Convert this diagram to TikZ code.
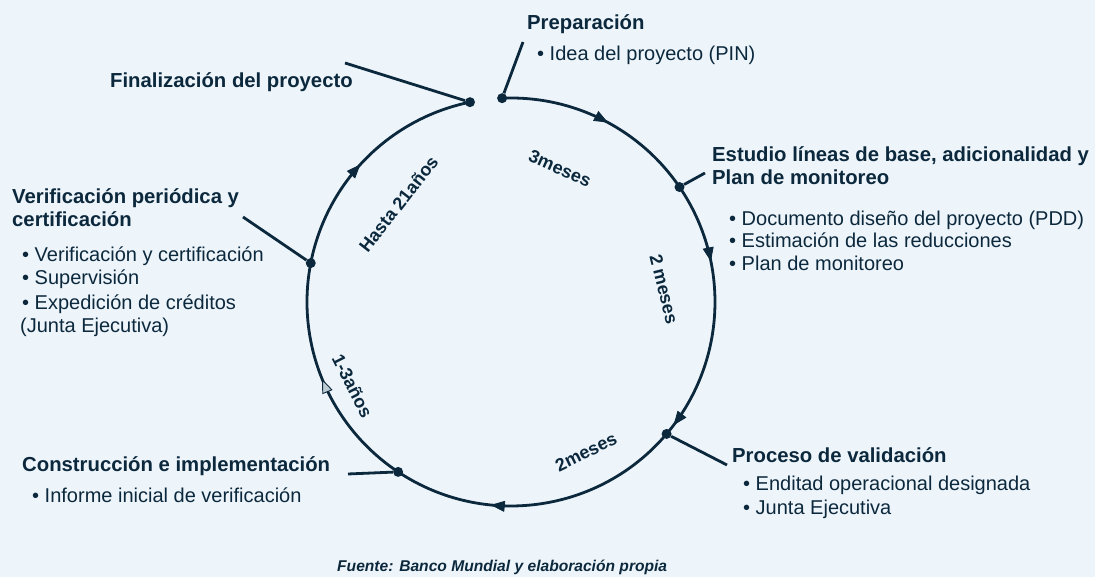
\documentclass[tikz,border=0pt]{standalone}
\usepackage{fontspec}
\setmainfont{Liberation Sans}
\usetikzlibrary{arrows.meta,decorations.markings}
\definecolor{navy}{RGB}{12,40,60}
\definecolor{bgc}{RGB}{237,245,251}
\definecolor{pale}{RGB}{188,204,212}
\tikzset{
  ring/.style={draw=navy, line width=2.8pt},
  lead/.style={draw=navy, line width=2.8pt},
  dot/.style={circle, fill=navy, inner sep=0pt, minimum size=10pt},
  arrowat/.style={postaction={decorate}, decoration={markings,
      mark=at position #1 with {\arrow{Triangle[length=14pt,width=11pt,line width=0.8pt]}}}},
  hdr/.style={anchor=base west, inner sep=0pt, text=navy, font=\fontsize{20.3}{24}\selectfont\bfseries},
  txt/.style={anchor=base west, inner sep=0pt, text=navy, font=\fontsize{20}{24}\selectfont},
  rot/.style={inner sep=0pt, text=navy, font=\fontsize{18}{20}\selectfont\bfseries},
  src/.style={anchor=base west, inner sep=0pt, text=navy, font=\fontsize{15.6}{18}\selectfont\bfseries\itshape},
}
\begin{document}
\begin{tikzpicture}[x=1pt,y=1pt]
\useasboundingbox (0,0) rectangle (1095,577);
\fill[bgc] (0,0) rectangle (1095,577);

% centre of the cycle
\coordinate (c) at (511,275);

% stage dots
\path (c) ++(92.5:204) node[dot] (dP) {};
\path (c) ++(34.3:204) node[dot] (dE) {};
\path (c) ++(-40.3:204) node[dot] (dV) {};
\path (c) ++(236.4:204) node[dot] (dC) {};
\path (c) ++(169:204) node[dot] (dVf) {};
\path (c) ++(101.6:204) node[dot] (dF) {};

% cycle arcs
\draw[ring, arrowat=0.531] (dP.center) arc[start angle=92.5, end angle=34.3, radius=204];
\draw[ring, postaction={decorate}, decoration={markings,
   mark=at position 0.306 with {\arrow{Triangle[length=14pt,width=11pt,line width=0.8pt]}},
   mark=at position 0.958 with {\arrow{Triangle[length=14pt,width=11pt,line width=0.8pt]}}}]
   (dE.center) arc[start angle=34.3, end angle=-40.3, radius=204];
\draw[ring, arrowat=0.665] (dV.center) arc[start angle=-40.3, end angle=-123.6, radius=204];
\draw[ring, postaction={decorate}, decoration={markings,
   mark=at position 0.507 with {\arrow{Triangle[length=14pt,width=11pt,line width=0.9pt,fill=pale]}}}]
   (dC.center) arc[start angle=236.4, end angle=169, radius=204];
\draw[ring, arrowat=0.466] (dVf.center) arc[start angle=169, end angle=101.6, radius=204];

% leader ends
\coordinate (eP) at (523,535);
\coordinate (eF) at (345,514);
\coordinate (eE) at (705,404);
\coordinate (eVf) at (243,360);
\coordinate (eV) at (727,112);
\coordinate (eC) at (348,103);
\draw[lead] (dP) -- (eP);
\draw[lead] (dF) -- (eF);
\draw[lead] (dE) -- (eE);
\draw[lead] (dVf) -- (eVf);
\draw[lead] (dV) -- (eV);
\draw[lead] (dC) -- (eC);

% duration labels
\node[rot, rotate=-24] (l1) at (560,408.5) {3meses};
\node[rot, rotate=-76] (l2) at (664,288) {2 meses};
\node[rot, rotate=26] (l3) at (586,125) {2meses};
\node[rot, rotate=-63] (l4) at (352.5,191) {1-3años};
\node[rot, rotate=52] (l5) at (398.5,373) {Hasta 21años};

% Preparación
\node[hdr] (p0) at (527,547) {Preparación};
\node[txt] (p1) at (537,516) {• Idea del proyecto (PIN)};
% Finalización
\node[hdr] (f0) at (110,489) {Finalización del proyecto};
% Estudio
\node[hdr] (e0) at (712,415) {Estudio líneas de base, adicionalidad y};
\node[hdr] (e1) at (712,392) {Plan de monitoreo};
\node[txt] (e2) at (729,351) {• Documento diseño del proyecto (PDD)};
\node[txt] (e3) at (729,329) {• Estimación de las reducciones};
\node[txt] (e4) at (729,306) {• Plan de monitoreo};
% Verificación
\node[hdr] (v0) at (12,373) {Verificación periódica y};
\node[hdr] (v1) at (12,350) {certificación};
\node[txt] (v2) at (22,315) {• Verificación y certificación};
\node[txt] (v3) at (22,292) {• Supervisión};
\node[txt] (v4) at (22,267) {• Expedición de créditos};
\node[txt] (v5) at (20,244) {(Junta Ejecutiva)};
% Proceso de validación
\node[hdr] (q0) at (732,114) {Proceso de validación};
\node[txt] (q1) at (743,86) {• Enditad operacional designada};
\node[txt] (q2) at (743,62) {• Junta Ejecutiva};
% Construcción
\node[hdr] (k0) at (22,105) {Construcción e implementación};
\node[txt] (k1) at (32,74) {• Informe inicial de verificación};
% source
\node[src] (s0) at (337,5) {Fuente: Banco Mundial y elaboración propia};
\end{tikzpicture}
\end{document}
